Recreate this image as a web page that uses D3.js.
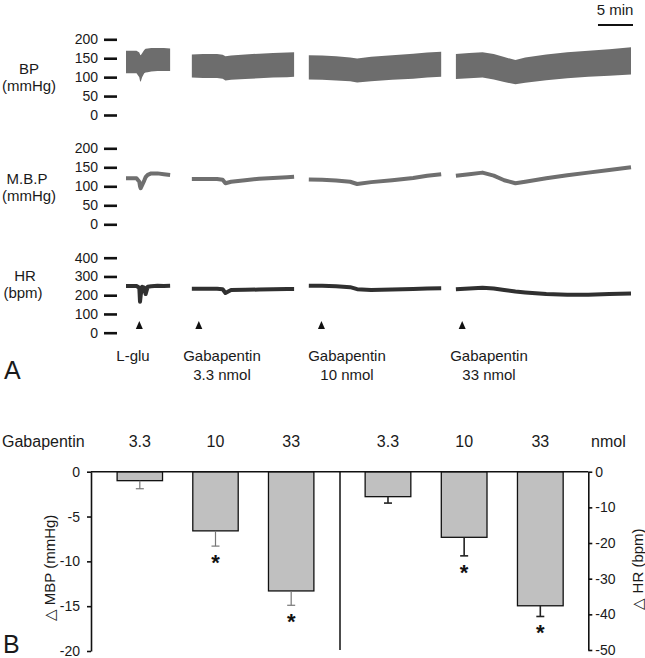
<!DOCTYPE html>
<html><head><meta charset="utf-8">
<script src="https://cdn.jsdelivr.net/npm/d3@7"></script>
<style>
body{margin:0;background:#fff;}
svg{display:block;font-family:"Liberation Sans",Arial,sans-serif;}
</style></head>
<body>
<svg id="c" width="645" height="658"></svg>
<script>
// ---------- Panel A data (time in minutes) ----------
const segTimes = [
  [0, 1.5, 1.9, 2.0, 2.1, 2.3, 2.6, 2.8, 3.1, 3.6, 4.5, 5.4, 6.3],
  [9.4, 11, 13, 13.8, 14.2, 15, 17, 19, 21, 23, 24],
  [26.1, 28, 30, 32, 33, 35, 38, 41, 43, 45],
  [47.1, 49, 50.9, 52.5, 54, 55.6, 57, 60, 63, 66, 69, 72.1]
];
const bpSys = [
  [170, 170, 165, 160, 158, 163, 172, 175, 176, 177, 177, 177, 176],
  [160, 161, 161, 159, 155, 157, 160, 162, 164, 165, 166],
  [158, 157, 155, 152, 149, 154, 158, 162, 165, 167],
  [161, 164, 166, 161, 153, 145, 152, 160, 166, 170, 174, 179]
];
const bpDia = [
  [110, 110, 100, 90, 88, 100, 110, 112, 113, 115, 116, 116, 116],
  [99, 98, 98, 96, 91, 93, 95, 97, 99, 100, 101],
  [94, 93, 91, 89, 86, 89, 93, 96, 99, 101],
  [95, 97, 99, 94, 87, 81, 85, 92, 97, 101, 104, 107]
];
const mbpTrace = [
  [121, 121, 112, 100, 95, 103, 115, 124, 130, 134, 134, 132, 130],
  [119, 119, 119, 117, 108, 112, 116, 120, 122, 124, 125],
  [118, 117, 115, 112, 106, 111, 116, 122, 128, 132],
  [128, 132, 136, 128, 116, 108, 112, 121, 129, 136, 143, 150]
];
const hrTrace = [
  [249, 249, 240, 165, 200, 245, 240, 206, 245, 248, 250, 249, 250],
  [235, 235, 234, 232, 212, 228, 229, 230, 232, 233, 233],
  [251, 250, 248, 243, 232, 228, 230, 233, 236, 237],
  [232, 236, 240, 236, 228, 220, 215, 206, 202, 203, 206, 209]
];
const injTimes = [1.9, 10.4, 27.9, 48.0];
const injLine1 = ["L-glu", "Gabapentin", "Gabapentin", "Gabapentin"];
const injLine2 = ["", "3.3 nmol", "10 nmol", "33 nmol"];
const bpTicks = [0, 50, 100, 150, 200];
const hrTicks = [0, 100, 200, 300, 400];
const scaleBarMin = [67.1, 72.1];

// ---------- Panel B data ----------
const doses = ["3.3", "10", "33"];
const mbpMean = [-1.0, -6.6, -13.3];
const mbpErr = [0.9, 1.7, 1.6];
const mbpSig = [false, true, true];
const hrMean = [-7.0, -18.4, -37.6];
const hrErr = [1.8, 5.2, 3.0];
const hrSig = [false, true, true];
const mbpTicks = [0, -5, -10, -15, -20];
const hrTicksB = [0, -10, -20, -30, -40, -50];

const svg = d3.select("#c");
const TXT = "#1a1a1a";
const plain = d => String(d);

// ---------- Panel A ----------
const x = d3.scaleLinear().domain([0, 72.1]).range([126, 631]);
const yBP = d3.scaleLinear().domain([0, 200]).range([115, 39.3]);
const yMBP = d3.scaleLinear().domain([0, 200]).range([224.3, 148.3]);
const yHR = d3.scaleLinear().domain([0, 400]).range([332.7, 257.7]);

function drawAxisA(scale, ticks) {
  const g = svg.append("g").attr("transform", "translate(117,0)")
    .call(d3.axisLeft(scale).tickValues(ticks).tickFormat(plain).tickSize(13).tickPadding(6));
  g.select(".domain").remove();
  g.selectAll("line").attr("stroke", "#111").attr("stroke-width", 2.6);
  g.selectAll("text").attr("font-size", 14).attr("fill", TXT)
    .attr("font-family", '"Liberation Sans",Arial,sans-serif');
}
drawAxisA(yBP, bpTicks);
drawAxisA(yMBP, bpTicks);
drawAxisA(yHR, hrTicks);

const sideLabels = [
  {t: "BP", x: 29, y: 74}, {t: "(mmHg)", x: 29, y: 91},
  {t: "M.B.P", x: 27, y: 184}, {t: "(mmHg)", x: 29, y: 201},
  {t: "HR", x: 25, y: 281}, {t: "(bpm)", x: 23, y: 298}
];
svg.selectAll(".sl").data(sideLabels).join("text")
  .attr("x", d => d.x).attr("y", d => d.y).attr("text-anchor", "middle")
  .attr("font-size", 15).attr("fill", TXT).text(d => d.t);

segTimes.forEach((ts, i) => {
  const pts = ts.map((t, j) => ({t, s: bpSys[i][j], d: bpDia[i][j], m: mbpTrace[i][j], h: hrTrace[i][j]}));
  svg.append("path").datum(pts)
    .attr("d", d3.area().x(p => x(p.t)).y0(p => yBP(p.d)).y1(p => yBP(p.s)))
    .attr("fill", "#6d6d6d");
  svg.append("path").datum(pts)
    .attr("d", d3.line().x(p => x(p.t)).y(p => yMBP(p.m)))
    .attr("fill", "none").attr("stroke", "#6f6f6f").attr("stroke-width", 4)
    .attr("stroke-linejoin", "round");
  svg.append("path").datum(pts)
    .attr("d", d3.line().x(p => x(p.t)).y(p => yHR(p.h)))
    .attr("fill", "none").attr("stroke", "#303030").attr("stroke-width", 4)
    .attr("stroke-linejoin", "round");
});

// injection arrows
svg.selectAll(".arr").data(injTimes).join("path")
  .attr("d", t => { const cx = x(t); return `M${cx - 3.5},329 L${cx + 3.5},329 L${cx},321 Z`; })
  .attr("fill", "#111");

const labelX = [133, 222, 347, 489];
svg.selectAll(".l1").data(injLine1).join("text")
  .attr("x", (d, i) => labelX[i]).attr("y", 361).attr("text-anchor", "middle")
  .attr("font-size", 15).attr("fill", TXT).text(d => d);
svg.selectAll(".l2").data(injLine2).join("text")
  .attr("x", (d, i) => labelX[i]).attr("y", 380).attr("text-anchor", "middle")
  .attr("font-size", 15).attr("fill", TXT).text(d => d);

// scale bar (5 min)
svg.append("text").attr("x", 615).attr("y", 15).attr("text-anchor", "middle")
  .attr("font-size", 15).attr("fill", TXT).text("5 min");
svg.append("line").attr("x1", x(scaleBarMin[0]) + 2).attr("x2", x(scaleBarMin[1]) + 2)
  .attr("y1", 25).attr("y2", 25).attr("stroke", "#111").attr("stroke-width", 2);

svg.append("text").attr("x", 4).attr("y", 379).attr("font-size", 25).attr("fill", TXT).text("A");

// ---------- Panel B ----------
const xL = d3.scaleBand().domain(doses).range([91, 340]).paddingInner(0.4).paddingOuter(0.345);
const xR = d3.scaleBand().domain(doses).range([340, 588.3]).paddingInner(0.4).paddingOuter(0.33);
const yL = d3.scaleLinear().domain([-20, 0]).range([651, 471.7]);
const yR = d3.scaleLinear().domain([-50, 0]).range([650, 471.7]);

// header
svg.append("text").attr("x", 2).attr("y", 447).attr("font-size", 16).attr("fill", TXT).text("Gabapentin");
svg.selectAll(".hl").data(doses).join("text")
  .attr("x", d => xL(d) + xL.bandwidth() / 2).attr("y", 447).attr("text-anchor", "middle")
  .attr("font-size", 16).attr("fill", TXT).text(d => d);
svg.selectAll(".hr").data(doses).join("text")
  .attr("x", d => xR(d) + xR.bandwidth() / 2).attr("y", 447).attr("text-anchor", "middle")
  .attr("font-size", 16).attr("fill", TXT).text(d => d);
svg.append("text").attr("x", 591).attr("y", 447).attr("font-size", 16).attr("fill", TXT).text("nmol");

// bars
function bars(xs, ys, means, errs, sig, errColor, errW) {
  const g = svg.append("g");
  g.selectAll("rect").data(means).join("rect")
    .attr("x", (d, i) => xs(doses[i])).attr("width", xs.bandwidth())
    .attr("y", ys(0)).attr("height", d => ys(d) - ys(0))
    .attr("fill", "#c0c0c0").attr("stroke", "#111").attr("stroke-width", 1.3);
  means.forEach((m, i) => {
    const cx = xs(doses[i]) + xs.bandwidth() / 2;
    const y1 = ys(m), y2 = ys(m - errs[i]);
    g.append("line").attr("x1", cx).attr("x2", cx).attr("y1", y1).attr("y2", y2)
      .attr("stroke", errColor).attr("stroke-width", errW);
    g.append("line").attr("x1", cx - 4).attr("x2", cx + 4).attr("y1", y2).attr("y2", y2)
      .attr("stroke", errColor).attr("stroke-width", errW);
    if (sig[i]) {
      g.append("text").attr("x", cx).attr("y", y2 + 24).attr("text-anchor", "middle")
        .attr("font-size", 22).attr("font-weight", "bold").attr("fill", "#111").text("*");
    }
  });
}
bars(xL, yL, mbpMean, mbpErr, mbpSig, "#777", 1.2);
bars(xR, yR, hrMean, hrErr, hrSig, "#222", 1.6);

// axes
const axL = svg.append("g").attr("transform", "translate(91,0)")
  .call(d3.axisLeft(yL).tickValues(mbpTicks).tickFormat(plain).tickSize(4).tickPadding(7).tickSizeOuter(0));
const axR = svg.append("g").attr("transform", "translate(588.3,0)")
  .call(d3.axisRight(yR).tickValues(hrTicksB).tickFormat(plain).tickSize(4).tickPadding(3).tickSizeOuter(0));
[axL, axR].forEach(g => {
  g.select(".domain").attr("stroke", "#111").attr("stroke-width", 1.6);
  g.selectAll("line").attr("stroke", "#111").attr("stroke-width", 1.6);
  g.selectAll("text").attr("font-size", 14).attr("fill", TXT)
    .attr("font-family", '"Liberation Sans",Arial,sans-serif');
});
// zero line and middle divider
svg.append("line").attr("x1", 91).attr("x2", 588.3).attr("y1", yL(0)).attr("y2", yL(0))
  .attr("stroke", "#111").attr("stroke-width", 1.5);
svg.append("line").attr("x1", 340).attr("x2", 340).attr("y1", yL(0)).attr("y2", 650)
  .attr("stroke", "#111").attr("stroke-width", 1.5);

// axis titles
svg.append("text").attr("transform", "translate(55,568) rotate(-90)").attr("text-anchor", "middle")
  .attr("font-size", 15).attr("fill", TXT).text("△ MBP (mmHg)");
svg.append("text").attr("transform", "translate(643,569) rotate(-90)").attr("text-anchor", "middle")
  .attr("font-size", 15).attr("fill", TXT).text("△ HR (bpm)");

svg.append("text").attr("x", 3).attr("y", 653).attr("font-size", 25).attr("fill", TXT).text("B");
</script>
</body></html>
